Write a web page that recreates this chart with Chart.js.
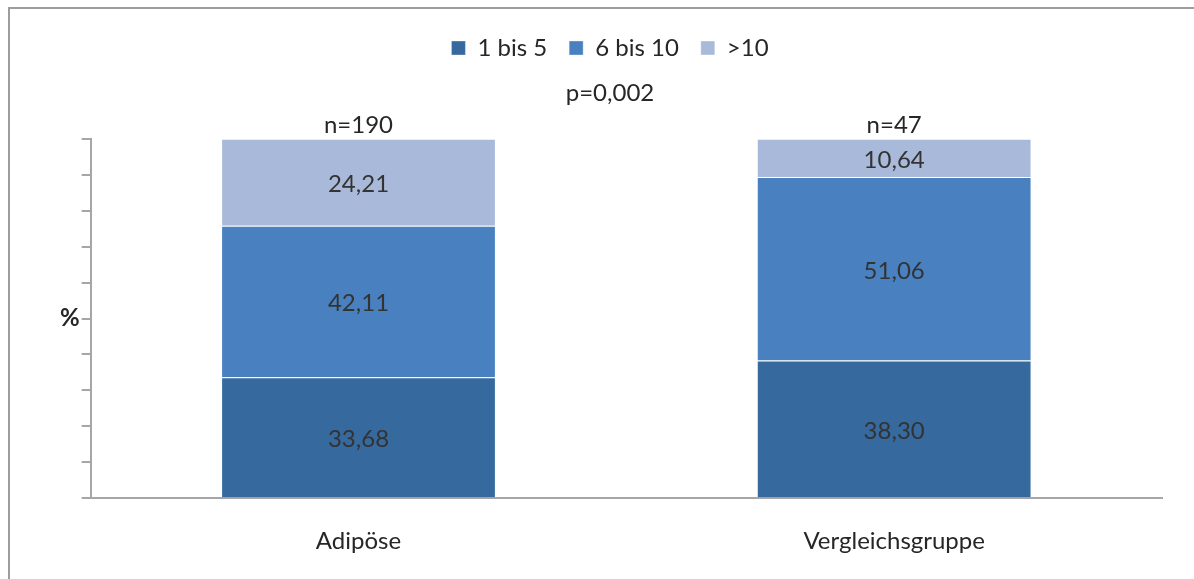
<!DOCTYPE html>
<html>
<head>
<meta charset="utf-8">
<script src="https://cdn.jsdelivr.net/npm/chart.js@4.4.1/dist/chart.umd.min.js"></script>
<style>
  html, body { margin:0; padding:0; background:#fff; }
  #frame { position:absolute; left:8px; top:7px; width:1300px; height:700px; border-left:2px solid #9d9d9d; border-top:2px solid #9d9d9d; }
  #wrap { position:absolute; left:0; top:0; width:1194px; height:579px; }
</style>
</head>
<body>
<div id="frame"></div>
<div id="wrap"><canvas id="c"></canvas></div>
<script>
// data
const categories = ['Adipöse', 'Vergleichsgruppe']
const seriesNames = ['1 bis 5', '6 bis 10', '>10']
const s1to5 = [33.68, 38.30]
const s6to10 = [42.11, 51.06]
const sOver10 = [24.21, 10.64]
const nLabels = ['n=190', 'n=47']
const pText = 'p=0,002'
const colors = ['#36699d', '#4880c0', '#a9b9d9']

const FONT = 'Lato, "Open Sans", sans-serif'
const TXT = '#262626'
const FS = 24

// draws values inside the segments and n=.. above the stacks
const labelPlugin = {
  id: 'labels',
  afterDatasetsDraw(chart) {
    const ctx = chart.ctx
    ctx.save()
    ctx.textAlign = 'center'
    ctx.textBaseline = 'middle'
    ctx.font = FS + 'px ' + FONT
    ctx.fillStyle = '#333'
    chart.data.datasets.forEach((ds, di) => {
      const meta = chart.getDatasetMeta(di)
      meta.data.forEach((bar, i) => {
        const yc = (bar.y + bar.base) / 2
        ctx.fillText(ds.data[i].toFixed(2).replace('.', ','), bar.x, yc + 2)
      })
    })
    const top = chart.getDatasetMeta(chart.data.datasets.length - 1)
    top.data.forEach((bar, i) => {
      ctx.fillStyle = TXT
      ctx.fillText(nLabels[i], bar.x, bar.y - 14)
    })
    ctx.restore()
  }
}

const ds = [s1to5, s6to10, sOver10].map((d, i) => ({
  label: seriesNames[i],
  data: d,
  backgroundColor: colors[i],
  borderColor: 'rgba(255,255,255,0.35)',
  borderWidth: 1,
  barPercentage: 0.513,
  categoryPercentage: 1
}))

new Chart(el('c'), {
  type: 'bar',
  data: { labels: categories, datasets: ds },
  options: {
    responsive: true,
    maintainAspectRatio: false,
    animation: false,
    layout: { padding: { top: 14, right: 32, left: 58, bottom: -6 } },
    plugins: {
      legend: {
        position: 'top',
        labels: { font: { size: FS, family: FONT }, color: TXT, boxWidth: 14, boxHeight: 14, padding: 22 }
      },
      subtitle: {
        display: true, text: pText, color: TXT, weight: 500,
        font: { size: FS, family: FONT, weight: 'normal' },
        padding: { top: 9, bottom: 31 }
      },
      tooltip: { enabled: false }
    },
    scales: {
      x: {
        stacked: true,
        grid: { display: true, drawOnChartArea: false, drawTicks: false },
        border: { color: '#a6a6a6', width: 2 },
        ticks: { color: TXT, font: { size: FS, family: FONT }, padding: 29 }
      },
      y: {
        stacked: true, min: 0, max: 100,
        grid: { drawOnChartArea: false, drawTicks: true, tickLength: 9, color: '#a6a6a6', lineWidth: 2 },
        border: { color: '#a6a6a6', width: 2 },
        ticks: {
          stepSize: 10, color: TXT, padding: 2,
          font: { size: 24, family: FONT, weight: 'bold' },
          callback: v => v === 50 ? '%' : ''
        }
      }
    }
  },
  plugins: [labelPlugin]
})

function el(id){ return document.getElementById(id) }
</script>
</body>
</html>
